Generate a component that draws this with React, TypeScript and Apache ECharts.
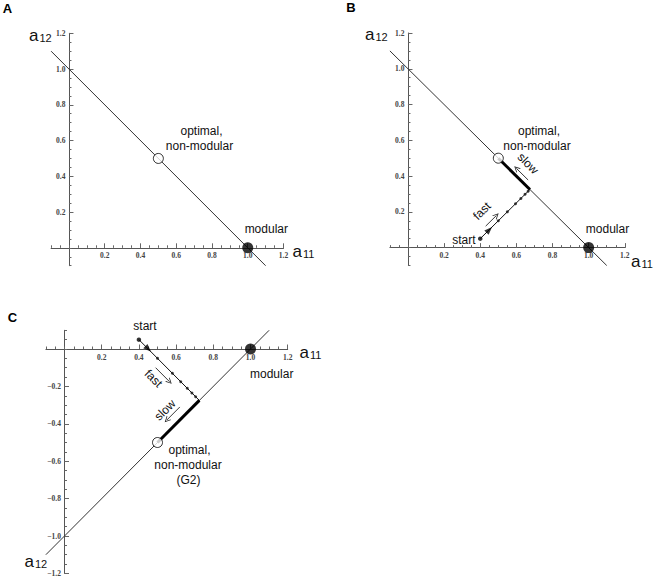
import React, { useEffect, useRef } from "react";
import * as echarts from "echarts";

// ---- axis ranges / tick labels ----
const posRange = [-0.1, 1.2];
const negRange = [-1.2, 0.1];
const majorPos = [0.2, 0.4, 0.6, 0.8, 1.0, 1.2];
const majorNeg = [-1.2, -1.0, -0.8, -0.6, -0.4, -0.2];

// ---- constraint lines ----
const lineAB_x = [-0.1, 1.1];
const lineAB_y = [1.1, -0.1];
const lineC_x = [-0.1, 1.1];
const lineC_y = [-1.1, 0.1];

// ---- key points ----
const optimalAB = [0.5, 0.5];
const optimalC = [0.5, -0.5];
const modular = [1.0, 0.0];
const start = [0.4, 0.05];
const cornerB = [0.675, 0.325];
const cornerC = [0.725, -0.275];

// ---- trajectory dots ----
const dotsB_x = [0.5, 0.55, 0.595, 0.625, 0.648, 0.665];
const dotsB_y = [0.15, 0.2, 0.245, 0.275, 0.298, 0.315];
const dotsC_x = [0.5, 0.58, 0.625, 0.66, 0.685, 0.705];
const dotsC_y = [-0.05, -0.13, -0.175, -0.21, -0.235, -0.255];

const arrowHeadB = [0.45, 0.1];
const arrowHeadC = [0.45, 0.0];

// ---- annotation arrows (from, to) ----
const fastArrowB = [[0.43, 0.12], [0.49, 0.18]];
const slowArrowB = [[0.665, 0.378], [0.6, 0.443]];
const fastArrowC = [[0.49, -0.1], [0.565, -0.175]];
const slowArrowC = [[0.62, -0.31], [0.55, -0.38]];

const SANS = "Liberation Sans, Arial, sans-serif";
const SERIF = "Liberation Serif, Times New Roman, serif";
const AX = "#444";
const LINE = "#333";

const fmt = (v: number) =>
  v < 0 ? "\u2212" + Math.abs(v).toFixed(1) : v.toFixed(1);

const openArrow = "path://M5,0 L10,10 L8.6,10 L5,2.8 L1.4,10 L0,10 Z";

type Grid = { left: number; top: number; width: number; height: number };

function axisPair(
  dim: "x" | "y",
  g: number,
  range: number[],
  otherRange: number[],
  majors: number[],
  grid: Grid
) {
  const other = 2 * g;
  // ECharts keeps labels of an onZero axis at the grid edge; pull them back to the axis line
  const frac = (0 - otherRange[0]) / (otherRange[1] - otherRange[0]);
  const zeroFromEdge = dim === "x" ? frac * grid.height : frac * grid.width;
  const margin = (dim === "x" ? 4 : 3.5) - zeroFromEdge;
  const base = {
    type: "value",
    gridIndex: g,
    min: range[0],
    max: range[1],
    interval: 0.05,
    position: dim === "x" ? "bottom" : "left",
    splitLine: { show: false },
  };
  return [
    {
      ...base,
      axisLine: {
        show: true,
        onZero: true,
        onZeroAxisIndex: other,
        lineStyle: { color: "#555", width: 1 },
      },
      axisTick: { show: true, inside: true, length: 2.5, lineStyle: { color: "#666", width: 1 } },
      axisLabel: {
        show: true,
        customValues: majors,
        formatter: fmt,
        fontSize: 7.5,
        fontFamily: SERIF,
        fontWeight: "bold",
        color: AX,
        margin,
      },
    },
    {
      ...base,
      axisLine: {
        show: true,
        onZero: true,
        onZeroAxisIndex: other,
        lineStyle: { color: "#555", width: 1, opacity: 0 },
      },
      axisTick: {
        show: true,
        inside: true,
        length: 4.5,
        customValues: majors,
        lineStyle: { color: "#666", width: 1 },
      },
      axisLabel: { show: false },
    },
  ];
}

function zip(xs: number[], ys: number[]) {
  return xs.map((x, i) => [x, ys[i]]);
}

function text(t: string, x: number, y: number, opts: any = {}) {
  return {
    type: "text",
    x,
    y,
    rotation: opts.rotation || 0,
    silent: true,
    style: {
      text: t,
      fill: opts.fill || "#111",
      fontSize: opts.fontSize || 12,
      fontFamily: opts.fontFamily || SANS,
      fontWeight: opts.fontWeight || "normal",
      align: opts.align || "center",
      verticalAlign: "middle",
      textAlign: opts.align || "center",
      textVerticalAlign: "middle",
    },
  };
}

function axisName(sub: string, left: number, y: number) {
  return [
    text("a", left, y, { fontSize: 17, align: "left" }),
    text(sub, left + 10.5, y + 2.5, { fontSize: 11, align: "left" }),
  ];
}

function seriesFor(g: number, opts: any) {
  const ax = { xAxisIndex: 2 * g, yAxisIndex: 2 * g };
  const s: any[] = [];
  s.push({
    type: "line",
    ...ax,
    data: zip(opts.lineX, opts.lineY),
    symbol: "none",
    lineStyle: { color: LINE, width: 1 },
    silent: true,
    z: 2,
  });
  if (opts.corner) {
    s.push({
      type: "line",
      ...ax,
      data: [start, opts.corner],
      symbol: "none",
      lineStyle: { color: "#111", width: 1 },
      silent: true,
      z: 3,
    });
    s.push({
      type: "line",
      ...ax,
      data: [opts.corner, opts.optimal],
      symbol: "none",
      lineStyle: { color: "#000", width: 3 },
      silent: true,
      z: 3,
    });
    s.push({
      type: "scatter",
      ...ax,
      data: zip(opts.dotsX, opts.dotsY),
      symbol: "circle",
      symbolSize: 3,
      itemStyle: { color: "#111" },
      silent: true,
      z: 4,
    });
    s.push({
      type: "scatter",
      ...ax,
      data: [start],
      symbol: "circle",
      symbolSize: 4.5,
      itemStyle: { color: "#000" },
      silent: true,
      z: 4,
    });
    s.push({
      type: "scatter",
      ...ax,
      data: [opts.arrowHead],
      symbol: "triangle",
      symbolSize: [6, 8],
      symbolRotate: opts.arrowRotate,
      itemStyle: { color: "#000" },
      silent: true,
      z: 4,
    });
    s.push({
      type: "lines",
      coordinateSystem: "cartesian2d",
      ...ax,
      data: opts.arrows.map((c: number[][]) => ({ coords: c })),
      symbol: ["none", openArrow],
      symbolSize: [6, 6],
      lineStyle: { color: "#222", width: 0.9, opacity: 1 },
      silent: true,
      z: 4,
    });
  }
  s.push({
    type: "scatter",
    ...ax,
    data: [opts.optimal],
    symbol: "circle",
    symbolSize: 10,
    itemStyle: { color: "#fff", borderColor: "#000", borderWidth: 1 },
    silent: true,
    z: 5,
  });
  s.push({
    type: "scatter",
    ...ax,
    data: [modular],
    symbol: "circle",
    symbolSize: 11,
    itemStyle: { color: "#000" },
    silent: true,
    z: 5,
  });
  return s;
}

export default function App() {
  const ref = useRef<HTMLDivElement>(null);
  useEffect(() => {
    if (!ref.current) return;
    const chart = echarts.init(ref.current, undefined, { renderer: "svg" });
    const gridBoxes: Grid[] = [
      { left: 51.1, top: 33.3, width: 232.4, height: 232.4 },
      { left: 389.9, top: 33, width: 234.9, height: 232.5 },
      { left: 45.9, top: 330.3, width: 241.8, height: 243.1 },
    ];
    const grids = gridBoxes.map((g) => ({
      ...g,
      containLabel: false,
      outerBoundsMode: "none",
      show: false,
    }));

    const xAxis = [
      ...axisPair("x", 0, posRange, posRange, majorPos, gridBoxes[0]),
      ...axisPair("x", 1, posRange, posRange, majorPos, gridBoxes[1]),
      ...axisPair("x", 2, posRange, negRange, majorPos, gridBoxes[2]),
    ];
    const yAxis = [
      ...axisPair("y", 0, posRange, posRange, majorPos, gridBoxes[0]),
      ...axisPair("y", 1, posRange, posRange, majorPos, gridBoxes[1]),
      ...axisPair("y", 2, negRange, posRange, majorNeg, gridBoxes[2]),
    ];

    const series = [
      ...seriesFor(0, { lineX: lineAB_x, lineY: lineAB_y, optimal: optimalAB }),
      ...seriesFor(1, {
        lineX: lineAB_x,
        lineY: lineAB_y,
        optimal: optimalAB,
        corner: cornerB,
        dotsX: dotsB_x,
        dotsY: dotsB_y,
        arrowHead: arrowHeadB,
        arrowRotate: -45,
        arrows: [fastArrowB, slowArrowB],
      }),
      ...seriesFor(2, {
        lineX: lineC_x,
        lineY: lineC_y,
        optimal: optimalC,
        corner: cornerC,
        dotsX: dotsC_x,
        dotsY: dotsC_y,
        arrowHead: arrowHeadC,
        arrowRotate: -135,
        arrows: [fastArrowC, slowArrowC],
      }),
    ];

    const graphic = [
      text("A", 7.5, 8, { fontSize: 13, fontWeight: "bold", fill: "#000" }),
      text("B", 351, 7.5, { fontSize: 13, fontWeight: "bold", fill: "#000" }),
      text("C", 12.5, 317, { fontSize: 13, fontWeight: "bold", fill: "#000" }),
      // panel A
      text("optimal,", 201.5, 130.5),
      text("non-modular", 199.5, 145.5),
      text("modular", 266.3, 229),
      ...axisName("12", 29, 35),
      ...axisName("11", 292.5, 251.5),
      // panel B
      text("optimal,", 539, 130.5),
      text("non-modular", 537, 145.5),
      text("modular", 607.5, 228.5),
      text("start", 475.5, 240, { align: "right" }),
      text("fast", 482, 211, { rotation: Math.PI / 4 }),
      text("slow", 528, 163.5, { rotation: -Math.PI / 4 }),
      ...axisName("12", 365, 34),
      ...axisName("11", 631, 261.5),
      // panel C
      text("start", 145, 326),
      text("modular", 271.7, 374),
      text("optimal,", 189.5, 450),
      text("non-modular", 188, 464.5),
      text("(G2)", 188.5, 479.5),
      text("fast", 153.5, 378.5, { rotation: -Math.PI / 4 }),
      text("slow", 165, 410, { rotation: Math.PI / 4 }),
      ...axisName("11", 299.5, 352),
      ...axisName("12", 24.5, 561),
    ];

    chart.setOption({
      animation: false,
      backgroundColor: "#fff",
      grid: grids,
      xAxis,
      yAxis,
      series,
      graphic,
    });
    return () => chart.dispose();
  }, []);
  return (
    <div
      ref={ref}
      style={{ position: "fixed", left: 0, top: 0, width: 662, height: 579, background: "#fff" }}
    />
  );
}
